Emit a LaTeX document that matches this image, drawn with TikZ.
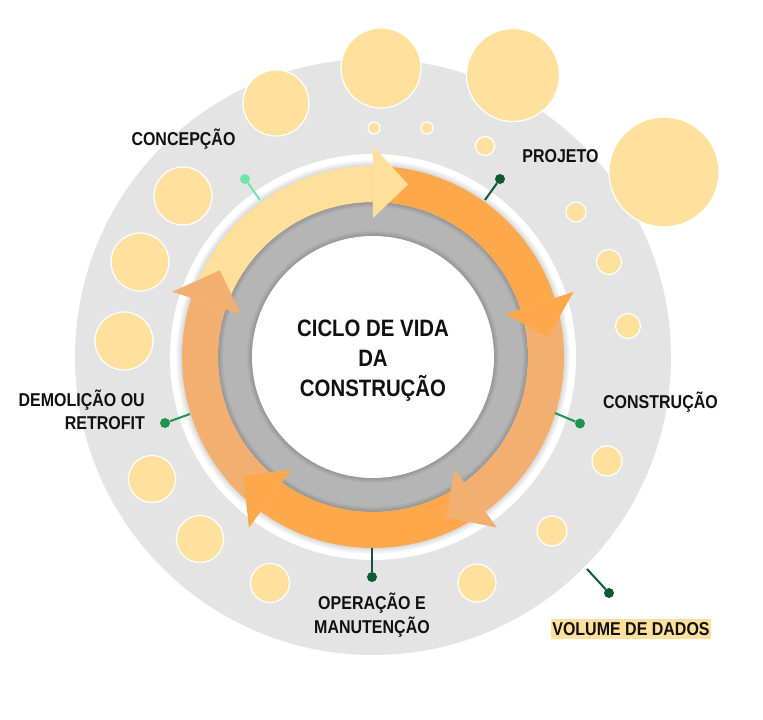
\documentclass[tikz,border=0pt]{standalone}
\usepackage{fontspec}
\setmainfont{Liberation Sans}[FakeStretch=0.86]
\usepackage{xcolor}
\usetikzlibrary{positioning}

\definecolor{outergray}{HTML}{E4E4E4}
\definecolor{innergray}{HTML}{B5B5B5}
\definecolor{bubblefill}{HTML}{FFE09C}
\definecolor{arrowyellow}{HTML}{FFE09B}
\definecolor{arroworange}{HTML}{FDA94B}
\definecolor{arrowsalmon}{HTML}{F3AF6F}
\definecolor{mintgreen}{HTML}{6EE7A6}
\definecolor{darkgreen}{HTML}{0E5A32}
\definecolor{midgreen}{HTML}{1E9450}
\definecolor{labeltext}{HTML}{111111}

\begin{document}
\begin{tikzpicture}[x=1pt, y=1pt,
    lbl/.style={font=\bfseries\fontsize{18.6}{23.7}\selectfont, text=labeltext, inner sep=0pt, align=center},
    bubble/.style={fill=bubblefill, draw=white, line width=1.2pt},
    pinline/.style={line width=2pt},
    pindot/.style={circle, inner sep=0pt, minimum size=10pt}]

    \useasboundingbox (-373,-363) rectangle (390,357);

    \fill[outergray] (0,0) circle (298);
    \foreach \x/\y/\r in {-97/254/33, 8/289/40, 140/282/46.5, 1/229/6, 54/229/6,
        112/211/9.5, 291/185/55, 203/145/10, 236/95/12.5, 255/31/12.5,
        234/-104/15, 179/-174/15, 104/-226/19, -103/-226/19.5, -173/-182/23.5,
        -221/-122/23.5, -249/16/29, -233/95/29, -190/161/29}
        \draw[bubble] (\x,\y) circle (\r);

    \fill[white] (0,0) circle (203);
    \foreach \w in {2,4,...,12}
        \draw[black, opacity=0.025, line width=\w pt] (0,0) circle (191);
    \fill[innergray] (0,0) circle (155);
    \foreach \w in {2,4,...,10}
        \draw[black, opacity=0.03, line width=\w pt] (0,0) circle (155);
    \foreach \w in {2,4,...,10}
        \draw[black, opacity=0.03, line width=\w pt] (0,0) circle (121);
    \fill[white] (0,0) circle (121);

    \foreach \a/\b/\c in {162/90/arrowyellow, 90/18/arroworange, 18/-54/arrowsalmon,
        -54/-126/arroworange, -126/-198/arrowsalmon}
        \fill[\c] (\a:191) arc[start angle=\a, end angle=\b, radius=191]
            -- (\b:155) arc[start angle=\b, end angle=\a, radius=155] -- cycle;
    \foreach \b/\c in {90/arrowyellow, 18/arroworange, -54/arrowsalmon,
        -126/arroworange, -198/arrowsalmon}
        \fill[\c] (\b:139) -- (\b:211) -- ({\b-11.5}:176) -- cycle;

    \node[lbl, font=\bfseries\fontsize{23.7}{30}\selectfont, anchor=base] (cycle) at (0,-39.7)
        {CICLO DE VIDA\\DA\\CONSTRUÇÃO};

    \node[lbl, anchor=base] (concepcao) at (-189.5,211.3) {CONCEPÇÃO};
    \node[pindot, fill=mintgreen] (concdot) at (-128,178) {};
    \coordinate (concfoot) at (-113,157);
    \draw[pinline, mintgreen] (concfoot) -- (concdot);

    \node[lbl, anchor=base] (projeto) at (187.5,194.3) {PROJETO};
    \node[pindot, fill=darkgreen] (projdot) at (127,178) {};
    \coordinate (projfoot) at (112,157);
    \draw[pinline, darkgreen] (projfoot) -- (projdot);

    \node[lbl, anchor=base] (construcao) at (287.5,-51.7) {CONSTRUÇÃO};
    \node[pindot, fill=midgreen] (constdot) at (207,-66.5) {};
    \coordinate (constfoot) at (182,-56);
    \draw[pinline, midgreen] (constfoot) -- (constdot);

    \node[lbl, anchor=base] (operacao) at (-1,-276.4) {OPERAÇÃO E\\MANUTENÇÃO};
    \node[pindot, fill=darkgreen] (operdot) at (-1,-220) {};
    \coordinate (operfoot) at (-1,-191);
    \draw[pinline, darkgreen] (operfoot) -- (operdot);

    \node[lbl, align=right, anchor=base east] (demolicao) at (-228,-72.7) {DEMOLIÇÃO OU\\RETROFIT};
    \node[pindot, fill=midgreen] (demodot) at (-208,-66) {};
    \coordinate (demofoot) at (-183,-57);
    \draw[pinline, midgreen] (demofoot) -- (demodot);

    \node[lbl, fill=bubblefill, inner xsep=1.5pt, text height=16.7pt, text depth=3.3pt,
        anchor=base] (volume) at (258,-278.7) {VOLUME DE DADOS};
    \node[pindot, fill=darkgreen] (voldot) at (236,-236) {};
    \coordinate (volfoot) at (214,-212);
    \draw[pinline, darkgreen] (volfoot) -- (voldot);

\end{tikzpicture}
\end{document}
